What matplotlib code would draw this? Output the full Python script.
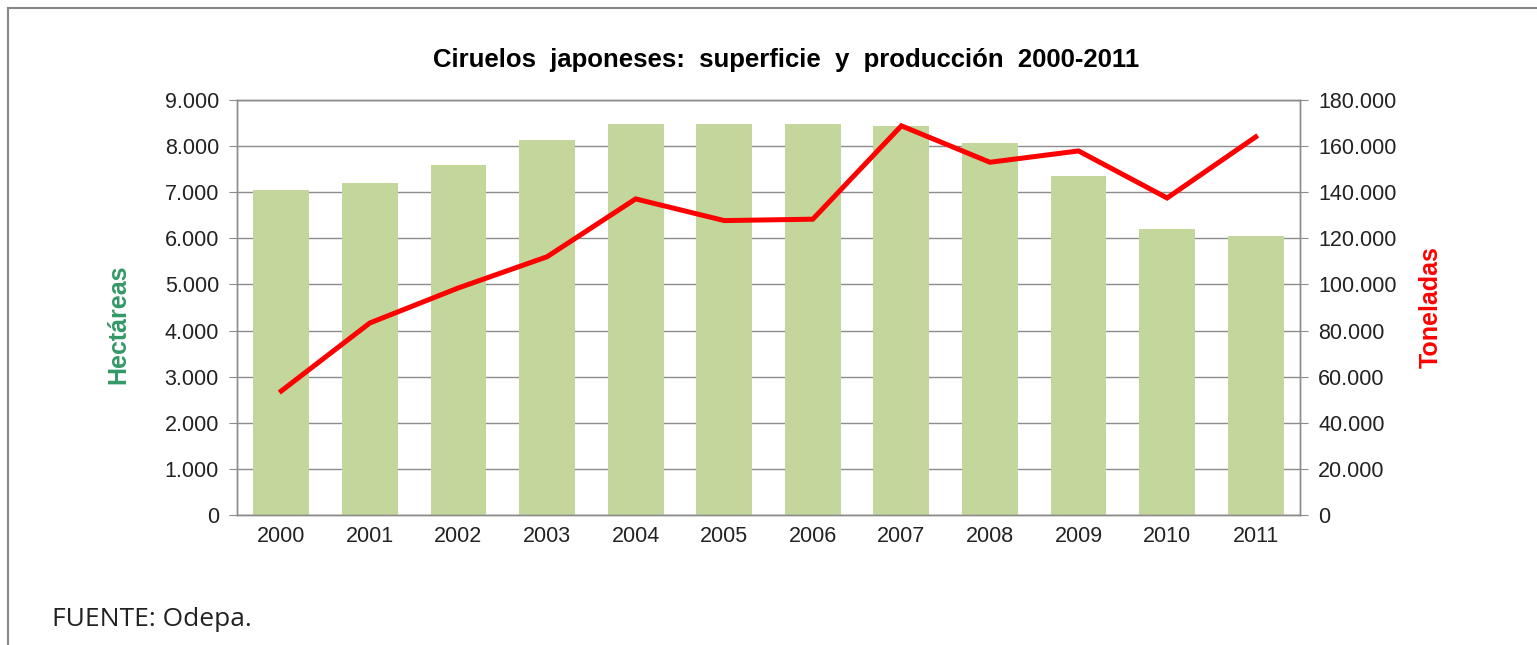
import matplotlib.pyplot as plt
from matplotlib.lines import Line2D
from matplotlib.ticker import FuncFormatter

plt.rcParams['font.family'] = ['Liberation Sans', 'DejaVu Sans']

# Data
years = ['2000', '2001', '2002', '2003', '2004', '2005',
         '2006', '2007', '2008', '2009', '2010', '2011']
hectareas = [7050, 7190, 7600, 8140, 8475, 8475, 8475, 8440, 8070, 7350, 6200, 6050]
toneladas = [53800, 83300, 98500, 112000, 137100, 127700,
             128300, 168800, 153000, 157900, 137500, 164000]


def miles(v, pos):
    return '{:,.0f}'.format(v).replace(',', '.')


grid_color = '#8c8c8c'

fig = plt.figure(figsize=(15.37, 6.45), dpi=100)
ax = fig.add_axes([237 / 1537, 1 - 515 / 645, (1300 - 237) / 1537, (515 - 100) / 645])
ax2 = ax.twinx()

x = range(len(years))
ax.bar(x, hectareas, width=0.63, color='#C3D69B', zorder=2)
ax2.plot(x, toneladas, color='#FF0000', lw=3.6, zorder=3, solid_joinstyle='miter')

ax.set_xlim(-0.5, len(years) - 0.5)
ax.set_ylim(0, 9000)
ax.set_yticks(range(0, 9001, 1000))
ax2.set_ylim(0, 180000)
ax2.set_yticks(range(0, 180001, 20000))
ax.yaxis.set_major_formatter(FuncFormatter(miles))
ax2.yaxis.set_major_formatter(FuncFormatter(miles))
ax.set_xticks(list(x))
ax.set_xticklabels(years)

ax.grid(axis='y', color=grid_color, lw=1.0, zorder=0)
ax.set_axisbelow(True)
for a in (ax, ax2):
    for s in a.spines.values():
        s.set_color(grid_color)
        s.set_linewidth(1.0)
ax.tick_params(axis='y', length=6, color=grid_color, labelsize=15.5, labelcolor='#222222', pad=7)
ax2.tick_params(axis='y', length=6, color=grid_color, labelsize=15.5, labelcolor='#222222', pad=7)
ax.tick_params(axis='x', length=0, labelsize=15.5, labelcolor='#222222', pad=8)

ax.set_ylabel('Hectáreas', color='#339966', fontsize=18, fontweight='bold')
ax.yaxis.set_label_coords(-0.1, 0.46)
ax2.set_ylabel('Toneladas', color='#FF0000', fontsize=18, fontweight='bold')
ax2.yaxis.set_label_coords(1.112, 0.5)

fig.text(786 / 1537, 1 - 60 / 645, 'Ciruelos  japoneses:  superficie  y  producción  2000-2011',
         ha='center', va='center', fontsize=18.5, fontweight='bold')
fig.text(52 / 1537, 1 - 620 / 645, 'FUENTE: Odepa.', ha='left', va='center',
         fontsize=19, family=['Open Sans', 'DejaVu Sans'], color='#222222')

# outer frame (top and left edges)
fig.add_artist(Line2D([8 / 1537, 1], [1 - 8 / 645, 1 - 8 / 645], color='#888888', lw=1.5))
fig.add_artist(Line2D([8 / 1537, 8 / 1537], [0, 1 - 8 / 645], color='#888888', lw=1.5))

fig.savefig('out.png', dpi=100)
